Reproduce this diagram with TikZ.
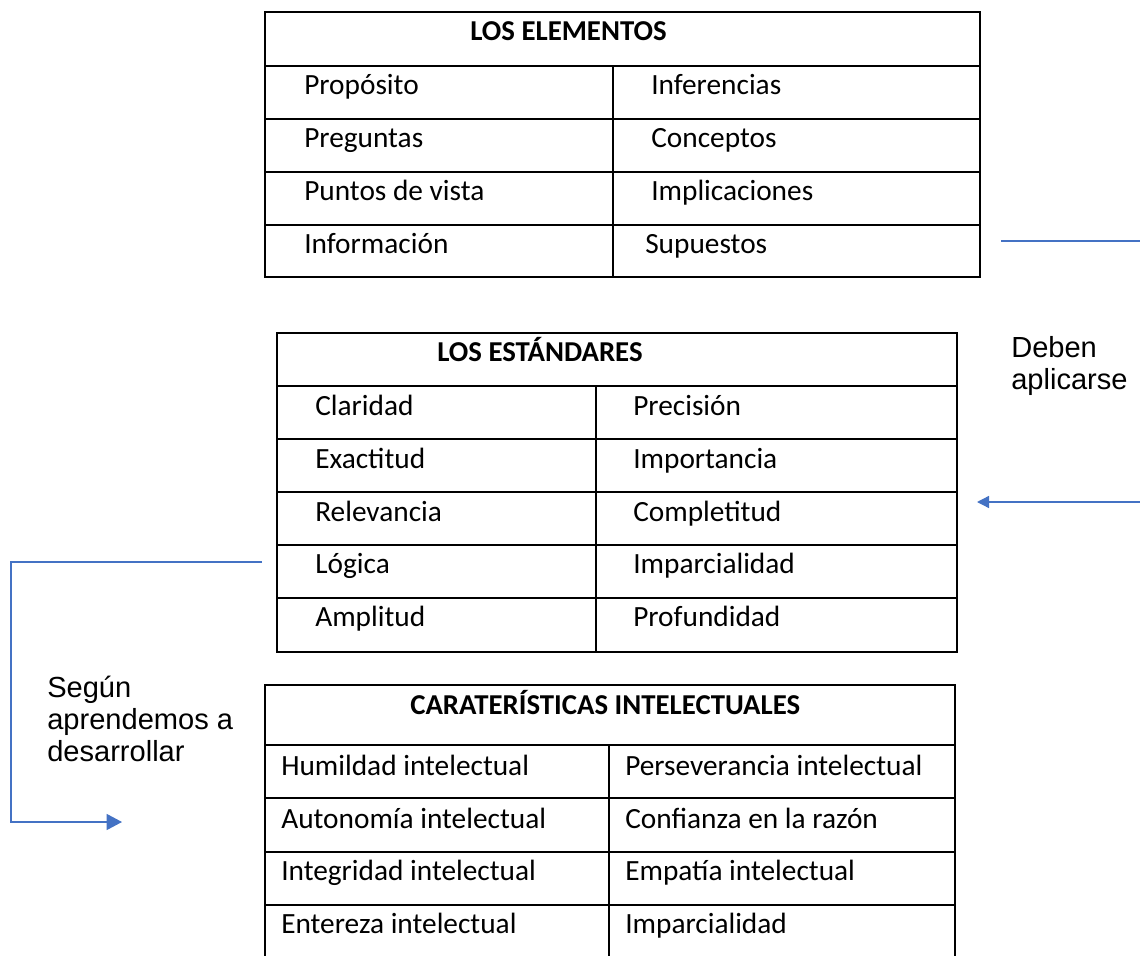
\documentclass[tikz,border=0pt]{standalone}
\usepackage{fontspec}
\setmainfont{Carlito}
\newfontfamily\arialf{Liberation Sans}
\usetikzlibrary{arrows.meta}
\definecolor{connblue}{HTML}{4472C4}
\begin{document}
\begin{tikzpicture}[x=0.75pt,y=-0.75pt,
  grid/.style={line width=1.5pt, black},
  cell/.style={anchor=base west, inner sep=0pt, font=\fontsize{22}{26}\selectfont},
  head/.style={cell, font=\fontsize{21.6}{26}\selectfont\bfseries},
  lbl/.style={anchor=north west, inner sep=0pt, align=left, font=\arialf\fontsize{21.8}{24}\selectfont},
  conn/.style={draw=connblue, line width=1pt}]
\useasboundingbox (0,0) rectangle (1140,956);

% ---------- Table 1: LOS ELEMENTOS ----------
\draw[grid] (265,12) rectangle (980,277);
\foreach \yy in {66,119,172,225} \draw[grid] (265,\yy) -- (980,\yy);
\draw[grid] (613,66) -- (613,277);
\node[head] (t1h) at (470,41) {LOS ELEMENTOS};
\node[cell] (t1a) at (304,94) {Propósito};
\node[cell] (t1b) at (304,147) {Preguntas};
\node[cell] (t1c) at (304,200) {Puntos de vista};
\node[cell] (t1d) at (304,253) {Información};
\node[cell] (t1e) at (651,94) {Inferencias};
\node[cell] (t1f) at (651,147) {Conceptos};
\node[cell] (t1g) at (651,200) {Implicaciones};
\node[cell] (t1i) at (645,253) {Supuestos};

% ---------- Table 2: LOS ESTÁNDARES ----------
\draw[grid] (277,333) rectangle (957,652);
\foreach \yy in {386,439,492,545,598} \draw[grid] (277,\yy) -- (957,\yy);
\draw[grid] (596,386) -- (596,652);
\node[head] (t2h) at (437,361) {LOS ESTÁNDARES};
\node[cell] (t2a) at (315,415) {Claridad};
\node[cell] (t2b) at (315,468) {Exactitud};
\node[cell] (t2c) at (315,521) {Relevancia};
\node[cell] (t2d) at (315,573) {Lógica};
\node[cell] (t2e) at (315,626) {Amplitud};
\node[cell] (t2f) at (633,415) {Precisión};
\node[cell] (t2g) at (633,468) {Importancia};
\node[cell] (t2i) at (633,521) {Completitud};
\node[cell] (t2j) at (633,573) {Imparcialidad};
\node[cell] (t2k) at (633,626) {Profundidad};

% ---------- Table 3: CARATERÍSTICAS INTELECTUALES ----------
\draw[grid] (265,960) -- (265,685) -- (955,685) -- (955,960);
\foreach \yy in {745,798,852,905} \draw[grid] (265,\yy) -- (955,\yy);
\draw[grid] (609,745) -- (609,960);
\node[head] (t3h) at (410,714) {CARATERÍSTICAS INTELECTUALES};
\node[cell] (t3a) at (281,775) {Humildad intelectual};
\node[cell] (t3b) at (281,828) {Autonomía intelectual};
\node[cell] (t3c) at (281,880) {Integridad intelectual};
\node[cell] (t3d) at (281,933) {Entereza intelectual};
\node[cell] (t3e) at (625,775) {Perseverancia intelectual};
\node[cell] (t3f) at (625,828) {Confianza en la razón};
\node[cell] (t3g) at (625,880) {Empatía intelectual};
\node[cell] (t3i) at (625,933) {Imparcialidad};

% ---------- labels ----------
\node[lbl] (deben) at (1011,336) {Deben\\aplicarse};
\node[lbl] (segun) at (47,676) {Según\\aprendemos a\\desarrollar};

% ---------- connectors ----------
\coordinate (topA) at (1001,241);
\coordinate (topB) at (1140,241);
\coordinate (rA) at (1140,502);
\coordinate (rB) at (977,502);
\coordinate (lA) at (262,562);
\coordinate (lC) at (11,562);
\coordinate (lD) at (11,822);
\coordinate (lB) at (122,822);
\draw[conn] (topA) -- (topB);
\draw[conn, -{Triangle[length=9pt,width=9pt]}] (rA) -- (rB);
\draw[conn, -{Triangle[length=11.5pt,width=12pt]}] (lA) -- (lC) -- (lD) -- (lB);
\end{tikzpicture}
\end{document}
